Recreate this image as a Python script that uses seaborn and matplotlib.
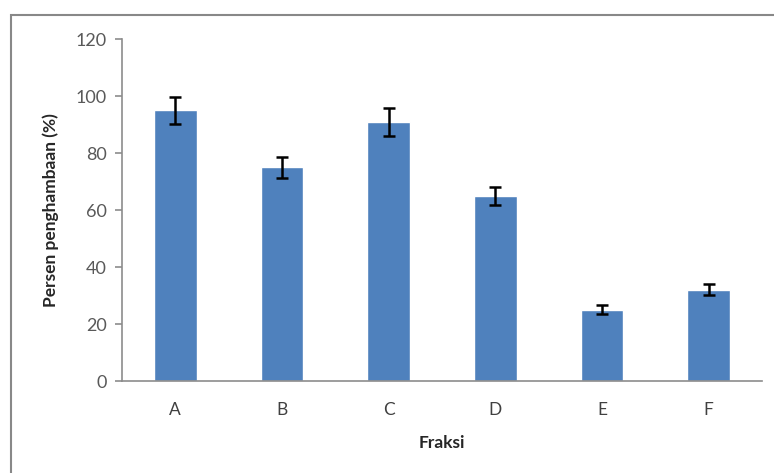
import matplotlib
matplotlib.use("Agg")
import matplotlib.pyplot as plt
from matplotlib.patches import Rectangle
import pandas as pd
import seaborn as sns

# ---- data ----
fraksi = ["A", "B", "C", "D", "E", "F"]
persen = [95, 75, 91, 65, 25, 32]
sd = [4.8, 3.7, 4.9, 3.2, 1.5, 1.9]

df = pd.DataFrame({"Fraksi": fraksi, "Persen": persen, "SD": sd})

sns.set_style("white")
plt.rcParams["font.family"] = ["Lato", "DejaVu Sans"]

fig = plt.figure(figsize=(7.74, 4.73), dpi=100)
ax = fig.add_axes([0.1576, 0.1945, 0.8269, 0.723])

sns.barplot(data=df, x="Fraksi", y="Persen", color="#4F81BD", saturation=1,
            width=0.4, errorbar=None, ax=ax)
ax.errorbar(range(len(df)), df["Persen"], yerr=df["SD"], fmt="none",
            ecolor="black", elinewidth=1.8, capsize=4.5, capthick=1.8)

ax.set_ylim(0, 120)
ax.set_yticks(range(0, 121, 20))
ax.set_xlim(-0.5, len(df) - 0.5)

for side in ["top", "right"]:
    ax.spines[side].set_visible(False)
for side in ["left", "bottom"]:
    ax.spines[side].set_color("#8c8c8c")
    ax.spines[side].set_linewidth(1.2)

ax.tick_params(axis="y", length=5, width=1.2, color="#8c8c8c", direction="out",
               labelsize=13, labelcolor="#595959", pad=6, left=True)
ax.tick_params(axis="x", length=0, labelsize=12.5, labelcolor="#404040", pad=15)

ax.set_xlabel("Fraksi", fontsize=12.5, fontweight="bold", color="#262626", labelpad=12)
ax.set_ylabel("Persen penghambaan (%)", fontsize=12.5, fontweight="bold", color="#262626",
              labelpad=12)

# outer chart border
fig.patches.append(Rectangle((11 / 774, -0.02), 1.0, 0.988,
                             transform=fig.transFigure, fill=False,
                             edgecolor="#888888", linewidth=1.5))

fig.savefig("out.png", dpi=100)
